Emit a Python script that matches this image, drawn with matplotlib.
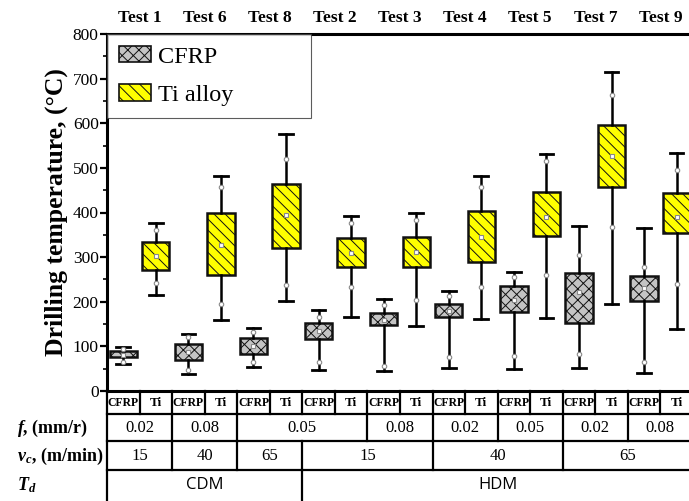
import matplotlib
matplotlib.use("Agg")
import matplotlib.pyplot as plt
from matplotlib.patches import Patch
from matplotlib.transforms import blended_transform_factory
import numpy as np

plt.rcParams['font.family'] = ['Liberation Serif', 'DejaVu Serif']
plt.rcParams['mathtext.fontset'] = 'custom'
plt.rcParams['mathtext.rm'] = 'Liberation Serif'
plt.rcParams['mathtext.it'] = 'Liberation Serif:italic'
plt.rcParams['mathtext.bf'] = 'Liberation Serif:bold'
plt.rcParams['mathtext.bfit'] = 'Liberation Serif:italic:bold'
plt.rcParams['hatch.linewidth'] = 0.7

# ---------------- data ----------------
tests = ['Test 1', 'Test 6', 'Test 8', 'Test 2', 'Test 3', 'Test 4', 'Test 5', 'Test 7', 'Test 9']

cfrp_lo   = [60, 38, 54, 47, 44, 52, 50, 52, 40]
cfrp_q1   = [76, 70, 82, 116, 147, 165, 177, 153, 202]
cfrp_q3   = [90, 105, 118, 152, 175, 195, 236, 264, 257]
cfrp_hi   = [98, 128, 142, 182, 207, 225, 267, 369, 366]
cfrp_mean = [80, 88, 100, 135, 160, 180, 205, 221, 230]
cfrp_p99  = [95, 121, 133, 166, 192, 214, 256, 304, 278]
cfrp_p1   = [65, 47, 64, 64, 56, 77, 79, 83, 66]

ti_lo   = [216, 159, 201, 165, 145, 162, 163, 196, 139]
ti_q1   = [272, 261, 321, 278, 278, 288, 347, 458, 354]
ti_q3   = [333, 398, 464, 343, 345, 404, 447, 596, 444]
ti_hi   = [377, 481, 576, 393, 398, 481, 532, 714, 534]
ti_mean = [302, 328, 395, 310, 312, 345, 390, 527, 390]
ti_p99  = [360, 458, 519, 377, 384, 458, 515, 663, 495]
ti_p1   = [243, 195, 237, 234, 203, 234, 259, 368, 240]

feed_values = ['0.02', '0.08', '0.05', '0.08', '0.02', '0.05', '0.02', '0.08']
feed_spans  = [1, 1, 2, 1, 1, 1, 1, 1]
speed_values = ['15', '40', '65', '15', '40', '65']
speed_spans  = [1, 1, 1, 2, 2, 2]
mode_values = ['CDM', 'HDM']
mode_spans  = [3, 6]
material_labels = ['CFRP', 'Ti']

# ---------------- figure ----------------
fig = plt.figure(figsize=(6.89, 5.01), dpi=100)
W, H = 689.0, 501.0
ax_left, ax_top, ax_bot = 107, 34, 391
ax_w = 9 * 65.1
ax = fig.add_axes([ax_left / W, 1 - ax_bot / H, ax_w / W, (ax_bot - ax_top) / H])

n = len(tests)
pos_c = np.arange(n) * 2
pos_t = np.arange(n) * 2 + 1

def stats(lo, q1, q3, hi, mean):
    return [dict(whislo=a, q1=b, med=m, q3=c, whishi=d, mean=m, fliers=[])
            for a, b, c, d, m in zip(lo, q1, q3, hi, mean)]

common = dict(widths=0.84, patch_artist=True, showmeans=False, showfliers=False,
              whiskerprops=dict(color='black', lw=1.8),
              capprops=dict(color='black', lw=2.0),
              medianprops=dict(lw=0))
b1 = ax.bxp(stats(cfrp_lo, cfrp_q1, cfrp_q3, cfrp_hi, cfrp_mean), positions=pos_c,
            boxprops=dict(facecolor='#c4c4c4', edgecolor='#111111', lw=1.8, hatch='xxx'), **common)
b2 = ax.bxp(stats(ti_lo, ti_q1, ti_q3, ti_hi, ti_mean), positions=pos_t,
            boxprops=dict(facecolor='#ffff00', edgecolor='#111111', lw=1.8, hatch='\\\\\\'), **common)

mk = dict(ls='none', mfc='white', mec='#888888', ms=3.2, mew=0.8, zorder=5)
ax.plot(pos_c, cfrp_mean, marker='s', **mk)
ax.plot(pos_c, cfrp_p99, marker='o', **mk)
ax.plot(pos_c, cfrp_p1, marker='o', **mk)
ax.plot(pos_t, ti_mean, marker='s', **mk)
ax.plot(pos_t, ti_p99, marker='o', **mk)
ax.plot(pos_t, ti_p1, marker='o', **mk)

ax.set_xlim(-0.5, 2 * n - 0.5)
ax.set_ylim(0, 800)
ax.set_yticks(np.arange(0, 801, 100))
ax.set_yticks(np.arange(50, 800, 100), minor=True)
ax.set_xticks([])
ax.tick_params(axis='y', which='major', direction='out', length=5, width=1.6, labelsize=12.5, pad=1)
ax.tick_params(axis='y', which='minor', direction='out', length=3, width=1.2)
for s in ['top', 'left', 'bottom']:
    ax.spines[s].set_linewidth(2.2)
ax.spines['right'].set_visible(False)

ax.set_ylabel('Drilling temperature, (°C)', fontsize=18.5, fontweight='bold', labelpad=3)

# test labels on top
trx = blended_transform_factory(ax.transData, ax.transAxes)
for i, t in enumerate(tests):
    ax.text(2 * i + 0.5, 1 + (ax_top - 18) / (ax_bot - ax_top), t, transform=trx,
            ha='center', va='center', fontsize=12.5, fontweight='bold')

# legend
handles = [Patch(facecolor='#c4c4c4', edgecolor='#111111', hatch='xxx', lw=1.2, label='CFRP'),
           Patch(facecolor='#ffff00', edgecolor='#111111', hatch='\\\\\\', lw=1.2, label='Ti alloy')]
leg_w = (311 - ax_left) / ax_w
leg = ax.legend(handles=handles, loc='upper left', bbox_to_anchor=(0, 0, leg_w, 1),
                mode='expand', borderaxespad=0, fontsize=17.5, frameon=True, fancybox=False,
                handlelength=1.3, handleheight=0.65, handletextpad=0.3, labelspacing=0.68,
                borderpad=0.5)
leg.get_frame().set_edgecolor('#333333')
leg.get_frame().set_linewidth(0.8)

# ---------------- table ----------------
def ya(ypix):
    return (ax_bot - ypix) / (ax_bot - ax_top)

rows = [391, 414, 441, 470, 503]
lw_t = 1.6
xl, xr = -0.5, 2 * n - 0.5
for r in rows[1:4]:
    ax.plot([xl, xr], [ya(r), ya(r)], transform=trx, color='black', lw=lw_t, clip_on=False)
ax.plot([xl, xl], [ya(rows[0]), ya(rows[4])], transform=trx, color='black', lw=lw_t, clip_on=False)

# row 1: material per half cell
for k in range(2 * n):
    ax.text(k, ya((rows[0] + rows[1]) / 2), material_labels[k % 2], transform=trx,
            ha='center', va='center', fontsize=8.5 if k % 2 == 0 else 9.5, fontweight='bold')
    if k > 0:
        ax.plot([k - 0.5, k - 0.5], [ya(rows[0]), ya(rows[1])], transform=trx,
                color='black', lw=lw_t, clip_on=False)

def span_row(values, spans, r0, r1, **kw):
    start = 0
    for v, s in zip(values, spans):
        x0 = 2 * start - 0.5
        x1 = 2 * (start + s) - 0.5
        ax.text((x0 + x1) / 2, ya((r0 + r1) / 2), v, transform=trx, ha='center', va='center', **kw)
        if start > 0:
            ax.plot([x0, x0], [ya(r0), ya(r1)], transform=trx, color='black', lw=lw_t, clip_on=False)
        start += s

span_row(feed_values, feed_spans, rows[1], rows[2], fontsize=12)
span_row(speed_values, speed_spans, rows[2], rows[3], fontsize=12)
span_row(mode_values, mode_spans, rows[3], rows[4] - 3, fontsize=12, family='Open Sans')

# row labels
lab_kw = dict(fontsize=13, fontweight='bold', ha='left', va='center')
fig.text(17 / W, 1 - 428 / H, r'$\mathbfit{f}$, (mm/r)', **lab_kw)
fig.text(17 / W, 1 - 456 / H, r'$\mathbfit{v}_{\mathbfit{c}}$, (m/min)', **lab_kw)
fig.text(17 / W, 1 - 485 / H, r'$\mathbfit{T}_{\mathbfit{d}}$', **lab_kw)

fig.savefig('out.png', dpi=100)
